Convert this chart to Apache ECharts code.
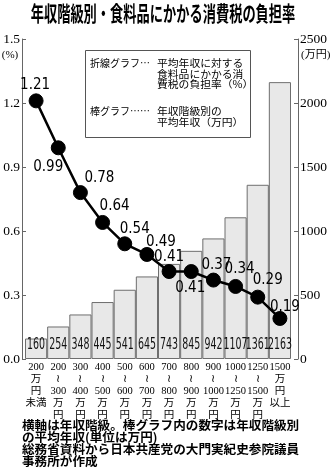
<!DOCTYPE html>
<html><head><meta charset="utf-8">
<script src="https://cdn.jsdelivr.net/npm/echarts@6/dist/echarts.min.js"></script>
<style>html,body{margin:0;padding:0;background:#fff}#c{width:330px;height:473px}</style>
</head><body><div id="c"></div>
<script>
// ---- data ----
const categories = [
  '200\n万\n円\n未満',
  '200\n≀\n300\n万\n円',
  '300\n≀\n400\n万\n円',
  '400\n≀\n500\n万\n円',
  '500\n≀\n600\n万\n円',
  '600\n≀\n700\n万\n円',
  '700\n≀\n800\n万\n円',
  '800\n≀\n900\n万\n円',
  '900\n≀\n1000\n万\n円',
  '1000\n≀\n1250\n万\n円',
  '1250\n≀\n1500\n万\n円',
  '1500\n万\n円\n以上'
];
const avgIncome = [160, 254, 348, 445, 541, 645, 743, 845, 942, 1107, 1361, 2163];
const burdenRate = [1.21, 0.99, 0.78, 0.64, 0.54, 0.49, 0.41, 0.41, 0.37, 0.34, 0.29, 0.19];
const leftAxis = { min: 0, max: 1.5, interval: 0.3 };
const rightAxis = { min: 0, max: 2500, interval: 500 };

// label placement (style only)
const labelOffsets = [[-1,-16],[-10,19],[19,-14],[12,-16],[10,-15],[14,-12],[0,-14],[-1,17],[3,-15],[4,-17],[10,-17],[5,-11]];

const NARROW = '"Liberation Sans Narrow", "DejaVu Sans Condensed", sans-serif';
const SERIF = '"Liberation Serif", "DejaVu Serif", "Noto Sans CJK JP", serif';

const chart = echarts.init(document.getElementById('c'), null, { renderer: 'canvas' });

const option = {
  animation: false,
  backgroundColor: '#fff',
  grid: { left: 25, right: 37, top: 39, bottom: 114, containLabel: false },
  xAxis: {
    type: 'category',
    data: categories,
    axisLine: { show: false },
    axisTick: { show: false },
    axisLabel: {
      interval: 0, margin: 2, color: '#000',
      fontFamily: SERIF, fontSize: 10.5, lineHeight: 12, verticalAlign: 'top'
    }
  },
  yAxis: [
    {
      type: 'value', position: 'left', offset: 3,
      min: leftAxis.min, max: leftAxis.max, interval: leftAxis.interval,
      axisLine: { show: true, lineStyle: { color: '#666', width: 1 } },
      axisTick: { show: true, inside: true, length: 4, lineStyle: { color: '#666' } },
      splitLine: { show: false },
      axisLabel: { margin: 2, color: '#000', fontFamily: SERIF, fontSize: 13.5,
        formatter: v => v.toFixed(1) }
    },
    {
      type: 'value', position: 'right', offset: 7,
      min: rightAxis.min, max: rightAxis.max, interval: rightAxis.interval,
      axisLine: { show: true, lineStyle: { color: '#666', width: 1 } },
      axisTick: { show: true, inside: true, length: 4, lineStyle: { color: '#666' } },
      splitLine: { show: false },
      axisLabel: { margin: 2, color: '#000', fontFamily: SERIF, fontSize: 13.5,
        formatter: v => String(v) }
    }
  ],
  series: [
    {
      type: 'bar', yAxisIndex: 1, data: avgIncome,
      barCategoryGap: '0%',
      itemStyle: { color: '#e8e8e8', borderColor: '#6e6e6e', borderWidth: 1 },
      z: 1
    },
    {
      type: 'custom', yAxisIndex: 1, z: 3,
      data: avgIncome.map((v, i) => [i, v]),
      encode: { x: 0, y: 1 },
      renderItem: function (params, api) {
        const p = api.coord([api.value(0), 0]);
        return {
          type: 'text', x: p[0], y: p[1] - 6, scaleY: 1.55,
          style: {
            text: String(api.value(1)), x: 0, y: 0,
            align: 'center', verticalAlign: 'bottom',
            textAlign: 'center', textVerticalAlign: 'bottom',
            fontFamily: NARROW, fontSize: 10.5, fill: '#111'
          }
        };
      }
    },
    {
      type: 'line', yAxisIndex: 0, z: 5,
      data: burdenRate.map((v, i) => ({ value: v, label: { offset: labelOffsets[i] } })),
      symbol: 'circle', symbolSize: 14,
      lineStyle: { color: '#000', width: 2.5 },
      itemStyle: { color: '#000', borderColor: '#000' },
      label: {
        show: true, position: 'inside', color: '#000',
        fontFamily: NARROW, fontSize: 15,
        formatter: p => p.value.toFixed(2)
      }
    }
  ],
  graphic: [
    { type: 'text', x: 163, y: 13, scaleX: 0.63, z: 10,
      style: { text: '年収階級別・食料品にかかる消費税の負担率', align: 'center', verticalAlign: 'middle',
        font: 'bold 21px "Noto Sans CJK JP"', fill: '#000' } },
    { type: 'text', x: 10, y: 55, z: 10,
      style: { text: '(%)', align: 'center', verticalAlign: 'middle',
        font: '11px "Liberation Serif", "Noto Sans CJK JP"', fill: '#000' } },
    { type: 'text', x: 301, y: 55, z: 10,
      style: { text: '(万円)', align: 'left', verticalAlign: 'middle',
        font: '11px "Liberation Serif", "Noto Sans CJK JP"', fill: '#000' } },
    { type: 'rect', z: 10, shape: { x: 85.5, y: 50.5, width: 165, height: 87 },
      style: { fill: '#fff', stroke: '#555', lineWidth: 1 } },
    { type: 'text', x: 90, y: 58, z: 11,
      style: { text: '折線グラフ…', font: '10px "Noto Sans CJK JP"', fill: '#000' } },
    { type: 'text', x: 157, y: 58, z: 11, scaleX: 1.08,
      style: { text: '平均年収に対する\n食料品にかかる消\n費税の負担率（%）', font: '10px "Noto Sans CJK JP"', lineHeight: 10.5, fill: '#000' } },
    { type: 'text', x: 90, y: 106, z: 11,
      style: { text: '棒グラフ……', font: '10px "Noto Sans CJK JP"', fill: '#000' } },
    { type: 'text', x: 157, y: 106, z: 11, scaleX: 1.08,
      style: { text: '年収階級別の\n平均年収（万円）', font: '10px "Noto Sans CJK JP"', lineHeight: 10.5, fill: '#000' } },
    { type: 'text', x: 22, y: 420, scaleX: 1.05, z: 10,
      style: { text: '横軸は年収階級。棒グラフ内の数字は年収階級別\nの平均年収(単位は万円)\n総務省資料から日本共産党の大門実紀史参院議員\n事務所が作成',
        font: 'bold 12px "Noto Sans CJK JP"', lineHeight: 11.7, fill: '#000' } }
  ]
};
chart.setOption(option);
</script>
</body></html>
